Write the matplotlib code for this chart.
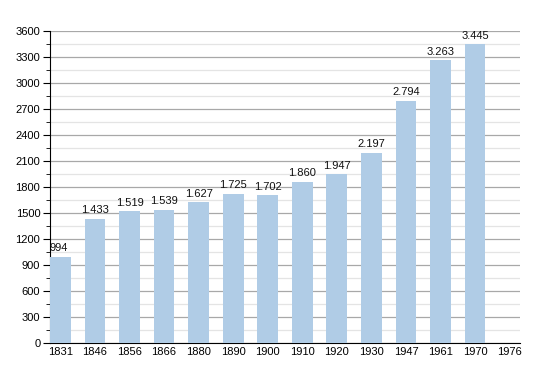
import matplotlib
matplotlib.use("Agg")
import matplotlib.pyplot as plt
from matplotlib.ticker import MultipleLocator

years = ["1831", "1846", "1856", "1866", "1880", "1890", "1900", "1910", "1920", "1930", "1947", "1961", "1970", "1976"]
population = [994, 1433, 1519, 1539, 1627, 1725, 1702, 1860, 1947, 2197, 2794, 3263, 3445, None]

plt.rcParams['font.family'] = ['Liberation Sans', 'DejaVu Sans']

fig = plt.figure(figsize=(5.5, 3.73), dpi=100)
ax = fig.add_axes([50/550, 1-343/373, 470/550, 312/373])

x = list(range(len(years)))
vals = [v if v is not None else 0 for v in population]
bar_w = 0.6
xmin = -0.3
bars = ax.bar(x, vals, width=bar_w, color="#b0cce6", zorder=3)
for xi, v in zip(x, population):
    if v is None:
        continue
    label = f"{v:,}".replace(",", ".")
    if xi - bar_w / 2 <= xmin + 1e-9 and len(label) <= 3:
        ax.text(xi - bar_w / 2, v + 40, label, ha="left", va="bottom", fontsize=8, color="#111111", zorder=4)
    else:
        ax.text(xi, v + 40, label, ha="center", va="bottom", fontsize=8, color="#111111", zorder=4)

ax.set_xlim(xmin, 13.3)
ax.set_ylim(0, 3600)
ax.yaxis.set_major_locator(MultipleLocator(300))
ax.yaxis.set_minor_locator(MultipleLocator(150))
ax.set_xticks(x)
ax.set_xticklabels(years)
ax.grid(axis="y", which="major", color="#a8a8a8", linewidth=0.9, zorder=0)
ax.grid(axis="y", which="minor", color="#e4e4e4", linewidth=0.9, zorder=0)
ax.spines["top"].set_visible(False)
ax.spines["right"].set_visible(False)
ax.spines["left"].set_color("black")
ax.spines["bottom"].set_color("black")
ax.tick_params(axis="y", which="major", length=5, labelsize=8, pad=2)
ax.tick_params(axis="y", which="minor", length=3)
ax.tick_params(axis="x", length=0, labelsize=8, pad=3)

fig.savefig("out.png", dpi=100)
